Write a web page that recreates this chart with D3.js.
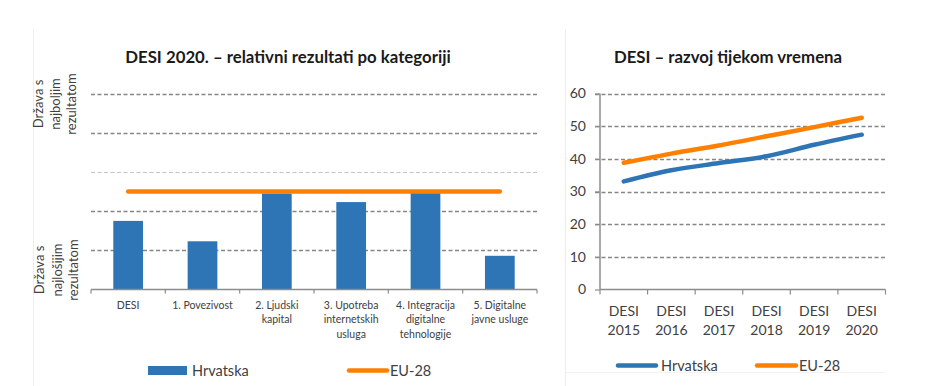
<!DOCTYPE html>
<html><head><meta charset="utf-8">
<script src="https://cdn.jsdelivr.net/npm/d3@7"></script>
<style>
html,body{margin:0;padding:0;background:#fff;}
svg{display:block;font-family:Lato,"Open Sans",sans-serif;}
</style></head>
<body><svg id="c" width="940" height="386"></svg>
<script>
// ---- Data: left chart (relative scores by category) ----
const categoriesLeft = ["DESI", "1. Povezivost", "2. Ljudski\nkapital", "3. Upotreba\ninternetskih\nusluga", "4. Integracija\ndigitalne\ntehnologije", "5. Digitalne\njavne usluge"];
const hrvatskaLeft = [1.75, 1.23, 2.45, 2.23, 2.46, 0.86];
const eu28Left = [2.5, 2.5, 2.5, 2.5, 2.5, 2.5];
const leftGridValues = [1, 2, 3, 4, 5];
const leftTopLabel = ["Država s", "najboljim", "rezultatom"];
const leftBottomLabel = ["Država s", "najlošijim", "rezultatom"];
const titleLeft = "DESI 2020. – relativni rezultati po kategoriji";

// ---- Data: right chart (DESI over time) ----
const years = ["DESI\n2015", "DESI\n2016", "DESI\n2017", "DESI\n2018", "DESI\n2019", "DESI\n2020"];
const hrvatskaTime = [33.1, 36.5, 38.7, 40.8, 44.3, 47.4];
const eu28Time = [38.8, 41.6, 44.1, 46.9, 49.7, 52.6];
const rightTicks = [0, 10, 20, 30, 40, 50, 60];
const titleRight = "DESI – razvoj tijekom vremena";

const seriesNames = ["Hrvatska", "EU-28"];
const BLUE = "#2E75B6", ORANGE = "#FF8000", TXT = "#404040", GRID = "#868686";

const svg = d3.select("#c");

// panel borders (faint)
svg.append("line").attr("x1",33.5).attr("x2",33.5).attr("y1",30).attr("y2",386).attr("stroke","#ececec");
svg.append("line").attr("x1",565.5).attr("x2",565.5).attr("y1",30).attr("y2",386).attr("stroke","#ececec");

// ================= LEFT CHART =================
const L = {x0: 91, x1: 537, y0: 289.5, y1: 93.5};
const xL = d3.scaleBand().domain(categoriesLeft).range([L.x0, L.x1]).paddingInner(0.6).paddingOuter(0.3);
const xLc = d3.scalePoint().domain(categoriesLeft).range([L.x0, L.x1]).padding(0.5);
const yL = d3.scaleLinear().domain([0, 5]).range([L.y0, L.y1]);

const gL = svg.append("g");
gL.selectAll("line.grid").data(leftGridValues).join("line")
  .attr("x1", L.x0).attr("x2", L.x1)
  .attr("y1", d => Math.round(yL(d)) + 0.5).attr("y2", d => Math.round(yL(d)) + 0.5)
  .attr("stroke", d => d === 3 ? "#c4c4c4" : GRID)
  .attr("stroke-width", d => d === 3 ? 1 : 1.4)
  .attr("stroke-dasharray", "4,2.5");

gL.selectAll("rect.bar").data(categoriesLeft).join("rect")
  .attr("x", d => xL(d)).attr("width", xL.bandwidth())
  .attr("y", (d, i) => yL(hrvatskaLeft[i]))
  .attr("height", (d, i) => yL(0) - yL(hrvatskaLeft[i]))
  .attr("fill", BLUE);

// x axis
gL.append("line").attr("x1", L.x0).attr("x2", L.x1).attr("y1", L.y0).attr("y2", L.y0)
  .attr("stroke", "#8c8c8c").attr("stroke-width", 1.5);
const bw = (L.x1 - L.x0) / categoriesLeft.length;
gL.selectAll("line.tick").data(d3.range(categoriesLeft.length + 1)).join("line")
  .attr("x1", i => L.x0 + i * bw).attr("x2", i => L.x0 + i * bw)
  .attr("y1", L.y0).attr("y2", L.y0 + 4).attr("stroke", "#8c8c8c").attr("stroke-width", 1.2);

// category labels
gL.selectAll("text.cat").data(categoriesLeft).join("text")
  .attr("text-anchor", "middle").attr("fill", TXT).attr("font-size", 10.5)
  .attr("transform", d => `translate(${xLc(d)},308.5)`)
  .selectAll("tspan").data(d => d.split("\n")).join("tspan")
  .attr("x", 0).attr("dy", (d, i) => i === 0 ? 0 : 14.5).text(d => d);

// EU-28 line
const lineL = d3.line().x((d, i) => xLc(categoriesLeft[i])).y(d => yL(d));
gL.append("path").datum(eu28Left).attr("d", lineL).attr("fill", "none")
  .attr("stroke", ORANGE).attr("stroke-width", 4.5).attr("stroke-linecap", "round");

// rotated side labels
function sideLabel(lines, cy, xs) {
  lines.forEach((t, i) => {
    gL.append("text").attr("transform", `translate(${xs[i]},${cy}) rotate(-90)`)
      .attr("text-anchor", "middle").attr("fill", TXT).attr("font-size", 13).text(t);
  });
}
sideLabel(leftTopLabel, 104, [43, 60, 76]);
sideLabel(leftBottomLabel, 270, [44, 62, 78]);

// title
svg.append("text").attr("x", 288).attr("y", 63).attr("text-anchor", "middle")
  .attr("font-weight", "bold").attr("font-size", 16.8).attr("fill", "#1a1a1a").text(titleLeft);

// legend left
svg.append("rect").attr("x", 148).attr("y", 366).attr("width", 39).attr("height", 9).attr("fill", BLUE);
svg.append("text").attr("x", 192).attr("y", 375.5).attr("font-size", 14.5).attr("fill", TXT).text(seriesNames[0]);
svg.append("line").attr("x1", 349).attr("x2", 387).attr("y1", 370.5).attr("y2", 370.5)
  .attr("stroke", ORANGE).attr("stroke-width", 4.5).attr("stroke-linecap", "round");
svg.append("text").attr("x", 390).attr("y", 375.5).attr("font-size", 14.5).attr("fill", TXT).text(seriesNames[1]);

// ================= RIGHT CHART =================
const R = {x0: 600, x1: 885.5, y0: 289.5, y1: 93.5};
const xR = d3.scalePoint().domain(years).range([R.x0, R.x1]).padding(0.5);
const yR = d3.scaleLinear().domain([0, 60]).range([R.y0, R.y1]);
const gR = svg.append("g");

gR.selectAll("line.grid").data(rightTicks.filter(d => d > 0)).join("line")
  .attr("x1", R.x0 - 5).attr("x2", R.x1)
  .attr("y1", d => Math.round(yR(d)) + 0.5).attr("y2", d => Math.round(yR(d)) + 0.5)
  .attr("stroke", GRID).attr("stroke-width", 1.4).attr("stroke-dasharray", "4,2.5");

const axY = d3.axisLeft(yR).tickValues(rightTicks).tickSize(5).tickPadding(9);
const gy = gR.append("g").attr("transform", `translate(${R.x0},0)`).call(axY);
gy.select(".domain").attr("stroke", "#8c8c8c").attr("stroke-width", 1.5).attr("d", `M0,${R.y0}V${R.y1}`);
gy.selectAll(".tick line").attr("stroke", "#8c8c8c").attr("stroke-width", 1.2);
gy.selectAll(".tick text").attr("font-size", 14).attr("fill", TXT).attr("font-family", "Lato");

const rbw = (R.x1 - R.x0) / years.length;
gR.append("line").attr("x1", R.x0).attr("x2", R.x1).attr("y1", R.y0).attr("y2", R.y0)
  .attr("stroke", "#8c8c8c").attr("stroke-width", 1.5);
gR.selectAll("line.xt").data(d3.range(years.length + 1)).join("line")
  .attr("x1", i => R.x0 + i * rbw).attr("x2", i => R.x0 + i * rbw)
  .attr("y1", R.y0).attr("y2", R.y0 + 5).attr("stroke", "#8c8c8c").attr("stroke-width", 1.2);

gR.selectAll("text.yr").data(years).join("text")
  .attr("text-anchor", "middle").attr("fill", TXT).attr("font-size", 14)
  .attr("transform", d => `translate(${xR(d)},315.5)`)
  .selectAll("tspan").data(d => d.split("\n")).join("tspan")
  .attr("x", 0).attr("dy", (d, i) => i === 0 ? 0 : 19.5).text(d => d);

const lineR = d3.line().x((d, i) => xR(years[i])).y(d => yR(d)).curve(d3.curveCatmullRom.alpha(0.5));
gR.append("path").datum(eu28Time).attr("d", lineR).attr("fill", "none")
  .attr("stroke", ORANGE).attr("stroke-width", 4.5).attr("stroke-linecap", "round");
gR.append("path").datum(hrvatskaTime).attr("d", lineR).attr("fill", "none")
  .attr("stroke", BLUE).attr("stroke-width", 4.5).attr("stroke-linecap", "round");

svg.append("text").attr("x", 728).attr("y", 63).attr("text-anchor", "middle")
  .attr("font-weight", "bold").attr("font-size", 16.8).attr("fill", "#1a1a1a").text(titleRight);

// legend right
svg.append("line").attr("x1", 618).attr("x2", 656).attr("y1", 365.5).attr("y2", 365.5)
  .attr("stroke", BLUE).attr("stroke-width", 4.5).attr("stroke-linecap", "round");
svg.append("text").attr("x", 661).attr("y", 370.5).attr("font-size", 14.5).attr("fill", TXT).text(seriesNames[0]);
svg.append("line").attr("x1", 757).attr("x2", 796).attr("y1", 365.5).attr("y2", 365.5)
  .attr("stroke", ORANGE).attr("stroke-width", 4.5).attr("stroke-linecap", "round");
svg.append("text").attr("x", 799).attr("y", 370.5).attr("font-size", 14.5).attr("fill", TXT).text(seriesNames[1]);
svg.append("line").attr("x1", 566).attr("x2", 885).attr("y1", 372.5).attr("y2", 372.5).attr("stroke", "#f2f2f2");
</script></body></html>
